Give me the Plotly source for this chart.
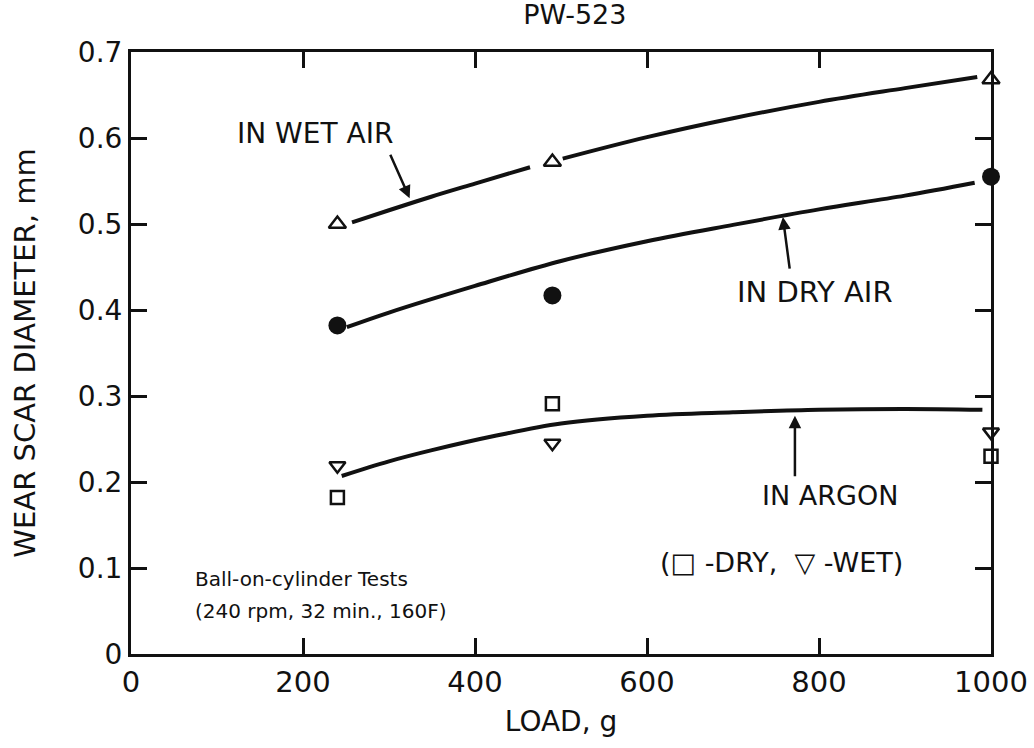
import plotly.graph_objects as go

# ---- data ----
load_pts = [240, 490, 1000]
wet_air_pts = [0.500, 0.572, 0.668]
dry_air_pts = [0.382, 0.417, 0.555]
argon_dry_pts = [0.182, 0.291, 0.230]
argon_wet_pts = [0.219, 0.245, 0.258]

wet_curve_x = [257, 300, 350, 400, 464, None, 502, 600, 700, 800, 900, 984]
wet_curve_y = [0.502, 0.516, 0.532, 0.547, 0.566, None, 0.576, 0.601, 0.623, 0.642, 0.658, 0.671]
dry_curve_x = [251, 300, 400, 500, 600, 700, 800, 900, 981]
dry_curve_y = [0.380, 0.397, 0.428, 0.457, 0.480, 0.499, 0.517, 0.533, 0.548]
argon_curve_x = [245, 300, 350, 425, 500, 600, 700, 800, 900, 990]
argon_curve_y = [0.207, 0.224, 0.237, 0.254, 0.268, 0.277, 0.281, 0.284, 0.285, 0.284]

x_ticks = [0, 200, 400, 600, 800, 1000]
y_ticks = [0, 0.1, 0.2, 0.3, 0.4, 0.5, 0.6, 0.7]
y_tick_text = ["0", "0.1", "0.2", "0.3", "0.4", "0.5", "0.6", "0.7"]

FONT = "DejaVu Sans"
BLACK = "#111111"

fig = go.Figure()

for cx, cy in [(wet_curve_x, wet_curve_y), (dry_curve_x, dry_curve_y), (argon_curve_x, argon_curve_y)]:
    fig.add_trace(go.Scatter(x=cx, y=cy, mode="lines", line=dict(color=BLACK, width=4, shape="spline"),
                             connectgaps=False, hoverinfo="skip", cliponaxis=False))

fig.add_trace(go.Scatter(x=load_pts, y=wet_air_pts, mode="markers", cliponaxis=False,
                         marker=dict(symbol="triangle-up-open", size=15, color=BLACK, line=dict(width=2.5, color=BLACK))))
fig.add_trace(go.Scatter(x=load_pts, y=dry_air_pts, mode="markers", cliponaxis=False,
                         marker=dict(symbol="circle", size=18, color=BLACK)))
fig.add_trace(go.Scatter(x=load_pts, y=argon_dry_pts, mode="markers", cliponaxis=False,
                         marker=dict(symbol="square-open", size=13, color=BLACK, line=dict(width=2.5, color=BLACK))))
fig.add_trace(go.Scatter(x=load_pts, y=argon_wet_pts, mode="markers", cliponaxis=False,
                         marker=dict(symbol="triangle-down-open", size=14, color=BLACK, line=dict(width=2.5, color=BLACK))))

# arrows
arrow_common = dict(showarrow=True, arrowhead=2, arrowsize=1, arrowwidth=2.5, arrowcolor=BLACK,
                    text="", xref="x", yref="y", axref="pixel", ayref="pixel")
fig.add_annotation(x=324, y=0.530, ax=-20, ay=-45, **arrow_common)
fig.add_annotation(x=758, y=0.508, ax=7, ay=53, **arrow_common)
fig.add_annotation(x=772, y=0.277, ax=0, ay=62, **arrow_common)

txt = dict(showarrow=False, xref="x", yref="y", xanchor="left", yanchor="middle")
fig.add_annotation(x=121, y=0.605, text="IN WET AIR", font=dict(family=FONT, size=28, color=BLACK), **txt)
fig.add_annotation(x=702, y=0.421, text="IN DRY AIR", font=dict(family=FONT, size=29, color=BLACK), **txt)
fig.add_annotation(x=731, y=0.184, text="IN ARGON", font=dict(family=FONT, size=27, color=BLACK), **txt)
fig.add_annotation(x=613, y=0.106, text="(\u25a1\u00a0-DRY,\u00a0\u00a0\u25bd\u00a0-WET)",
                   font=dict(family=FONT, size=27, color=BLACK), **txt)
fig.add_annotation(x=72, y=0.087, text="Ball-on-cylinder Tests", font=dict(family=FONT, size=20, color=BLACK), **txt)
fig.add_annotation(x=72, y=0.050, text="(240 rpm, 32 min., 160F)", font=dict(family=FONT, size=20, color=BLACK), **txt)

fig.update_layout(
    width=1034, height=748,
    paper_bgcolor="white", plot_bgcolor="white",
    margin=dict(l=131, r=43, t=52, b=94),
    showlegend=False,
    title=dict(text="PW-523", x=0.556, xanchor="center", y=0.98, yanchor="middle",
               font=dict(family=FONT, size=27, color=BLACK)),
    font=dict(family=FONT, color=BLACK),
)
fig.update_xaxes(range=[0, 1000], tickvals=x_ticks, ticks="inside", ticklen=16, tickwidth=3,
                 tickcolor=BLACK, showline=True, linewidth=3, linecolor=BLACK, mirror="ticks",
                 showgrid=False, zeroline=False, automargin=False,
                 tickfont=dict(family=FONT, size=29, color=BLACK),
                 title=dict(text="LOAD, g", font=dict(family=FONT, size=28, color=BLACK), standoff=14))
fig.update_yaxes(range=[0, 0.7], tickvals=y_ticks, ticktext=y_tick_text, ticks="inside", ticklen=16,
                 tickwidth=3, tickcolor=BLACK, showline=True, linewidth=3, linecolor=BLACK, mirror="ticks",
                 showgrid=False, zeroline=False, automargin=False,
                 tickfont=dict(family=FONT, size=28, color=BLACK),
                 title=dict(text="WEAR SCAR DIAMETER, mm", font=dict(family=FONT, size=29, color=BLACK), standoff=34))

fig.write_html("out.html")
